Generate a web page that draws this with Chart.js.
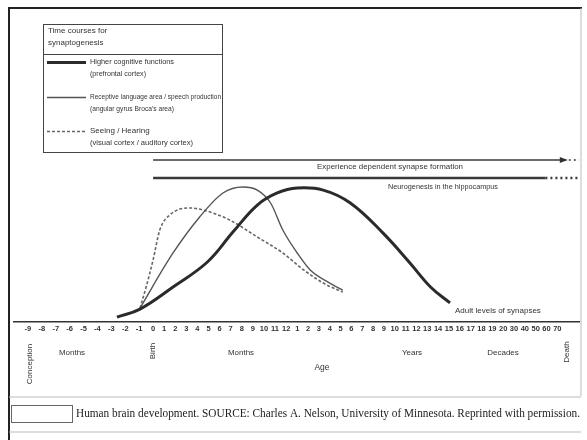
<!DOCTYPE html>
<html>
<head>
<meta charset="utf-8">
<script src="https://cdn.jsdelivr.net/npm/chart.js@4/dist/chart.umd.min.js"></script>
<style>
  body { margin: 0; background: #fff; }
  canvas { display: block; }
</style>
</head>
<body>
<canvas id="brainChart" width="587" height="440"></canvas>
<script>
// age axis: prenatal months, months after birth, years, decades
const tickLabels = ['-9', '-8', '-7', '-6', '-5', '-4', '-3', '-2', '-1', '0',
  '1', '2', '3', '4', '5', '6', '7', '8', '9', '10', '11', '12',
  '1', '2', '3', '4', '5', '6', '7', '8', '9', '10', '11', '12', '13', '14', '15', '16', '17', '18', '19', '20',
  '30', '40', '50', '60', '70'];

// x = position on the age axis (tick index), y = relative synapse density
const cognitiveX = [6.4, 8.06, 10.8, 13.9, 16.2, 18.4, 20.2, 22, 24.4, 26.9, 29.9, 32.4, 34.3, 36.1];
const cognitiveY = [2.9, 7.6, 20.6, 35.3, 52.9, 68.8, 75.9, 78.8, 77.6, 70, 52.4, 34.7, 20.6, 11.2];

const languageX = [8.06, 10.8, 13.2, 15.3, 17.1, 18.4, 19.6, 20.7, 22, 23.2, 25.0, 26.2];
const languageY = [8.2, 40.6, 61.8, 75.9, 79.4, 77.6, 70, 54.1, 40.6, 30.6, 22.9, 18.8];

const sensoryX = [8.06, 8.5, 9.0, 9.6, 10.5, 12.3, 13.5, 15.9, 18.4, 20.7, 22.6, 24.4, 26.2];
const sensoryY = [8.2, 20.6, 36.5, 54.1, 62.9, 67.1, 65.9, 60, 50, 40.6, 30.6, 22.9, 17.6];

// the two long bars at the top
const experienceX = [9, 46.6, 48];
const experienceY = 95.3;
const neurogenesisX = [9, 44.9, 48];
const neurogenesisY = 84.7;

const seriesNames = [
  ['Higher cognitive functions', '(prefrontal cortex)'],
  ['Receptive language area / speech production', "(angular gyrus Broca's area)"],
  ['Seeing / Hearing', '(visual cortex / auditory cortex)']
];

const toPoints = (xs, ys) => xs.map((x, i) => ({ x: x, y: Array.isArray(ys) ? ys[i] : ys }));

// the printed axis is not evenly spaced: prenatal months are wider than the rest
class AgeScale extends Chart.LinearScale {
  static id = 'age';
  static defaults = Chart.LinearScale.defaults;
  span(v) {
    const segs = [[-1, 9, 13.9], [9, 22, 11.08], [22, 48, 10.83]];
    let d = 0;
    for (const [a, b, w] of segs) {
      if (v > a) d += (Math.min(v, b) - a) * w;
    }
    return d;
  }
  getPixelForValue(value) {
    const total = this.span(this.max);
    return this.getPixelForDecimal(this.span(value) / total);
  }
  getValueForPixel(pixel) {
    const target = this.getDecimalForPixel(pixel) * this.span(this.max);
    let lo = this.min, hi = this.max;
    for (let i = 0; i < 30; i++) {
      const mid = (lo + hi) / 2;
      if (this.span(mid) < target) lo = mid; else hi = mid;
    }
    return (lo + hi) / 2;
  }
}
Chart.register(AgeScale);

const FONT = "'Liberation Sans', Arial, sans-serif";

function txt(ctx, s, x, y, size, maxW, align, color) {
  ctx.font = size + 'px ' + FONT;
  ctx.fillStyle = color || '#333';
  ctx.textAlign = align || 'left';
  ctx.textBaseline = 'middle';
  if (maxW) ctx.fillText(s, x, y, maxW); else ctx.fillText(s, x, y);
}

function vtxt(ctx, s, x, y, size, maxW) {
  ctx.save();
  ctx.translate(x, y);
  ctx.rotate(-Math.PI / 2);
  txt(ctx, s, 0, 0, size, maxW, 'center');
  ctx.restore();
}

const decorations = {
  id: 'decorations',
  afterDraw(chart) {
    const ctx = chart.ctx;
    const xs = chart.scales.x, ys = chart.scales.y;
    ctx.save();

    // outer frame of the scanned figure
    ctx.strokeStyle = '#222';
    ctx.lineWidth = 2;
    ctx.beginPath();
    ctx.moveTo(8, 8); ctx.lineTo(582, 8);
    ctx.moveTo(9, 8); ctx.lineTo(9, 440);
    ctx.stroke();
    ctx.strokeStyle = '#bbb';
    ctx.lineWidth = 1;
    ctx.beginPath();
    ctx.moveTo(581, 8); ctx.lineTo(581, 396);
    ctx.moveTo(9, 397); ctx.lineTo(581, 397);
    ctx.moveTo(9, 432); ctx.lineTo(581, 432);
    ctx.stroke();

    // legend box
    ctx.strokeStyle = '#444';
    ctx.lineWidth = 1;
    ctx.strokeRect(43.5, 24.5, 179, 128);
    ctx.beginPath();
    ctx.moveTo(43, 54.5); ctx.lineTo(223, 54.5);
    ctx.stroke();
    txt(ctx, 'Time courses for', 48, 31, 8, 70);
    txt(ctx, 'synaptogenesis', 48, 43, 8, 62);

    const rows = [62, 97, 131];
    const sets = chart.data.datasets;
    rows.forEach((ry, i) => {
      const ds = sets[i];
      ctx.strokeStyle = ds.borderColor;
      ctx.lineWidth = ds.borderWidth;
      ctx.setLineDash(ds.borderDash || []);
      ctx.beginPath();
      ctx.moveTo(47, ry + 0.5); ctx.lineTo(86, ry + 0.5);
      ctx.stroke();
      ctx.setLineDash([]);
      txt(ctx, seriesNames[i][0], 90, ry, 8, i === 1 ? 131 : 84);
      txt(ctx, seriesNames[i][1], 90, ry + 11.5, 8, i === 1 ? 84 : (i === 0 ? 56 : 103));
    });

    // arrow head on the experience-dependent line
    const ax = xs.getPixelForValue(experienceX[1]);
    const ay = ys.getPixelForValue(experienceY);
    ctx.fillStyle = '#333';
    ctx.beginPath();
    ctx.moveTo(ax + 4, ay);
    ctx.lineTo(ax - 4, ay - 3);
    ctx.lineTo(ax - 4, ay + 3);
    ctx.closePath();
    ctx.fill();

    txt(ctx, 'Experience dependent synapse formation', 390, 167, 8, 146, 'center');
    txt(ctx, 'Neurogenesis in the hippocampus', 388, 187, 8, 110);
    txt(ctx, 'Adult levels of synapses', 455, 311, 8, 100);

    // labels under the age axis
    vtxt(ctx, 'Conception', xs.getPixelForValue(0) + 2, 364, 8, 50);
    vtxt(ctx, 'Birth', xs.getPixelForValue(9), 351, 8, 22);
    vtxt(ctx, 'Death', 567, 352, 8, 24);
    txt(ctx, 'Months', 72, 353, 8, 26, 'center');
    txt(ctx, 'Months', 241, 353, 8, 26, 'center');
    txt(ctx, 'Years', 412, 353, 8, 22, 'center');
    txt(ctx, 'Decades', 503, 353, 8, 32, 'center');
    txt(ctx, 'Age', 322, 368, 8.5, 16, 'center');

    // caption
    ctx.strokeStyle = '#666';
    ctx.lineWidth = 1;
    ctx.strokeRect(11.5, 405.5, 61, 17);
    ctx.font = "11.5px 'Liberation Serif', 'Times New Roman', serif";
    ctx.fillStyle = '#222';
    ctx.textAlign = 'left';
    ctx.textBaseline = 'middle';
    ctx.fillText('Human brain development. SOURCE: Charles A. Nelson, University of Minnesota. Reprinted with permission.', 76, 414, 504);

    ctx.restore();
  }
};

new Chart(document.getElementById('brainChart'), {
  type: 'line',
  data: {
    datasets: [
      {
        label: seriesNames[0][0],
        data: toPoints(cognitiveX, cognitiveY),
        borderColor: '#2b2b2b',
        borderWidth: 3,
        tension: 0.4
      },
      {
        label: seriesNames[1][0],
        data: toPoints(languageX, languageY),
        borderColor: '#555',
        borderWidth: 1.4,
        cubicInterpolationMode: 'monotone'
      },
      {
        label: seriesNames[2][0],
        data: toPoints(sensoryX, sensoryY),
        borderColor: '#666',
        borderWidth: 1.6,
        borderDash: [3, 2],
        cubicInterpolationMode: 'monotone'
      },
      {
        label: 'Experience dependent synapse formation',
        data: toPoints(experienceX, experienceY),
        borderColor: '#3a3a3a',
        borderWidth: 1.5,
        segment: { borderDash: c => c.p0DataIndex === 1 ? [2, 3] : undefined }
      },
      {
        label: 'Neurogenesis in the hippocampus',
        data: toPoints(neurogenesisX, neurogenesisY),
        borderColor: '#3a3a3a',
        borderWidth: 2.5,
        segment: { borderDash: c => c.p0DataIndex === 1 ? [2, 3] : undefined }
      }
    ]
  },
  options: {
    responsive: false,
    animation: false,
    devicePixelRatio: 1,
    layout: { padding: { left: 14, right: 8, top: 152, bottom: 102 } },
    elements: { point: { radius: 0 } },
    plugins: {
      legend: { display: false },
      tooltip: { enabled: false }
    },
    scales: {
      x: {
        type: 'age',
        min: -1,
        max: 48,
        afterFit: s => { s.height = 16; },
        grid: { display: false, drawTicks: false },
        border: { display: true, color: '#333', width: 1.5 },
        ticks: {
          stepSize: 1,
          autoSkip: false,
          maxRotation: 0,
          minRotation: 0,
          padding: 2,
          color: '#333',
          font: { family: FONT, size: 7.5, weight: 'bold' },
          callback: v => tickLabels[v] !== undefined ? tickLabels[v] : ''
        }
      },
      y: {
        display: false,
        min: 0,
        max: 100
      }
    }
  },
  plugins: [decorations]
});
</script>
</body>
</html>
